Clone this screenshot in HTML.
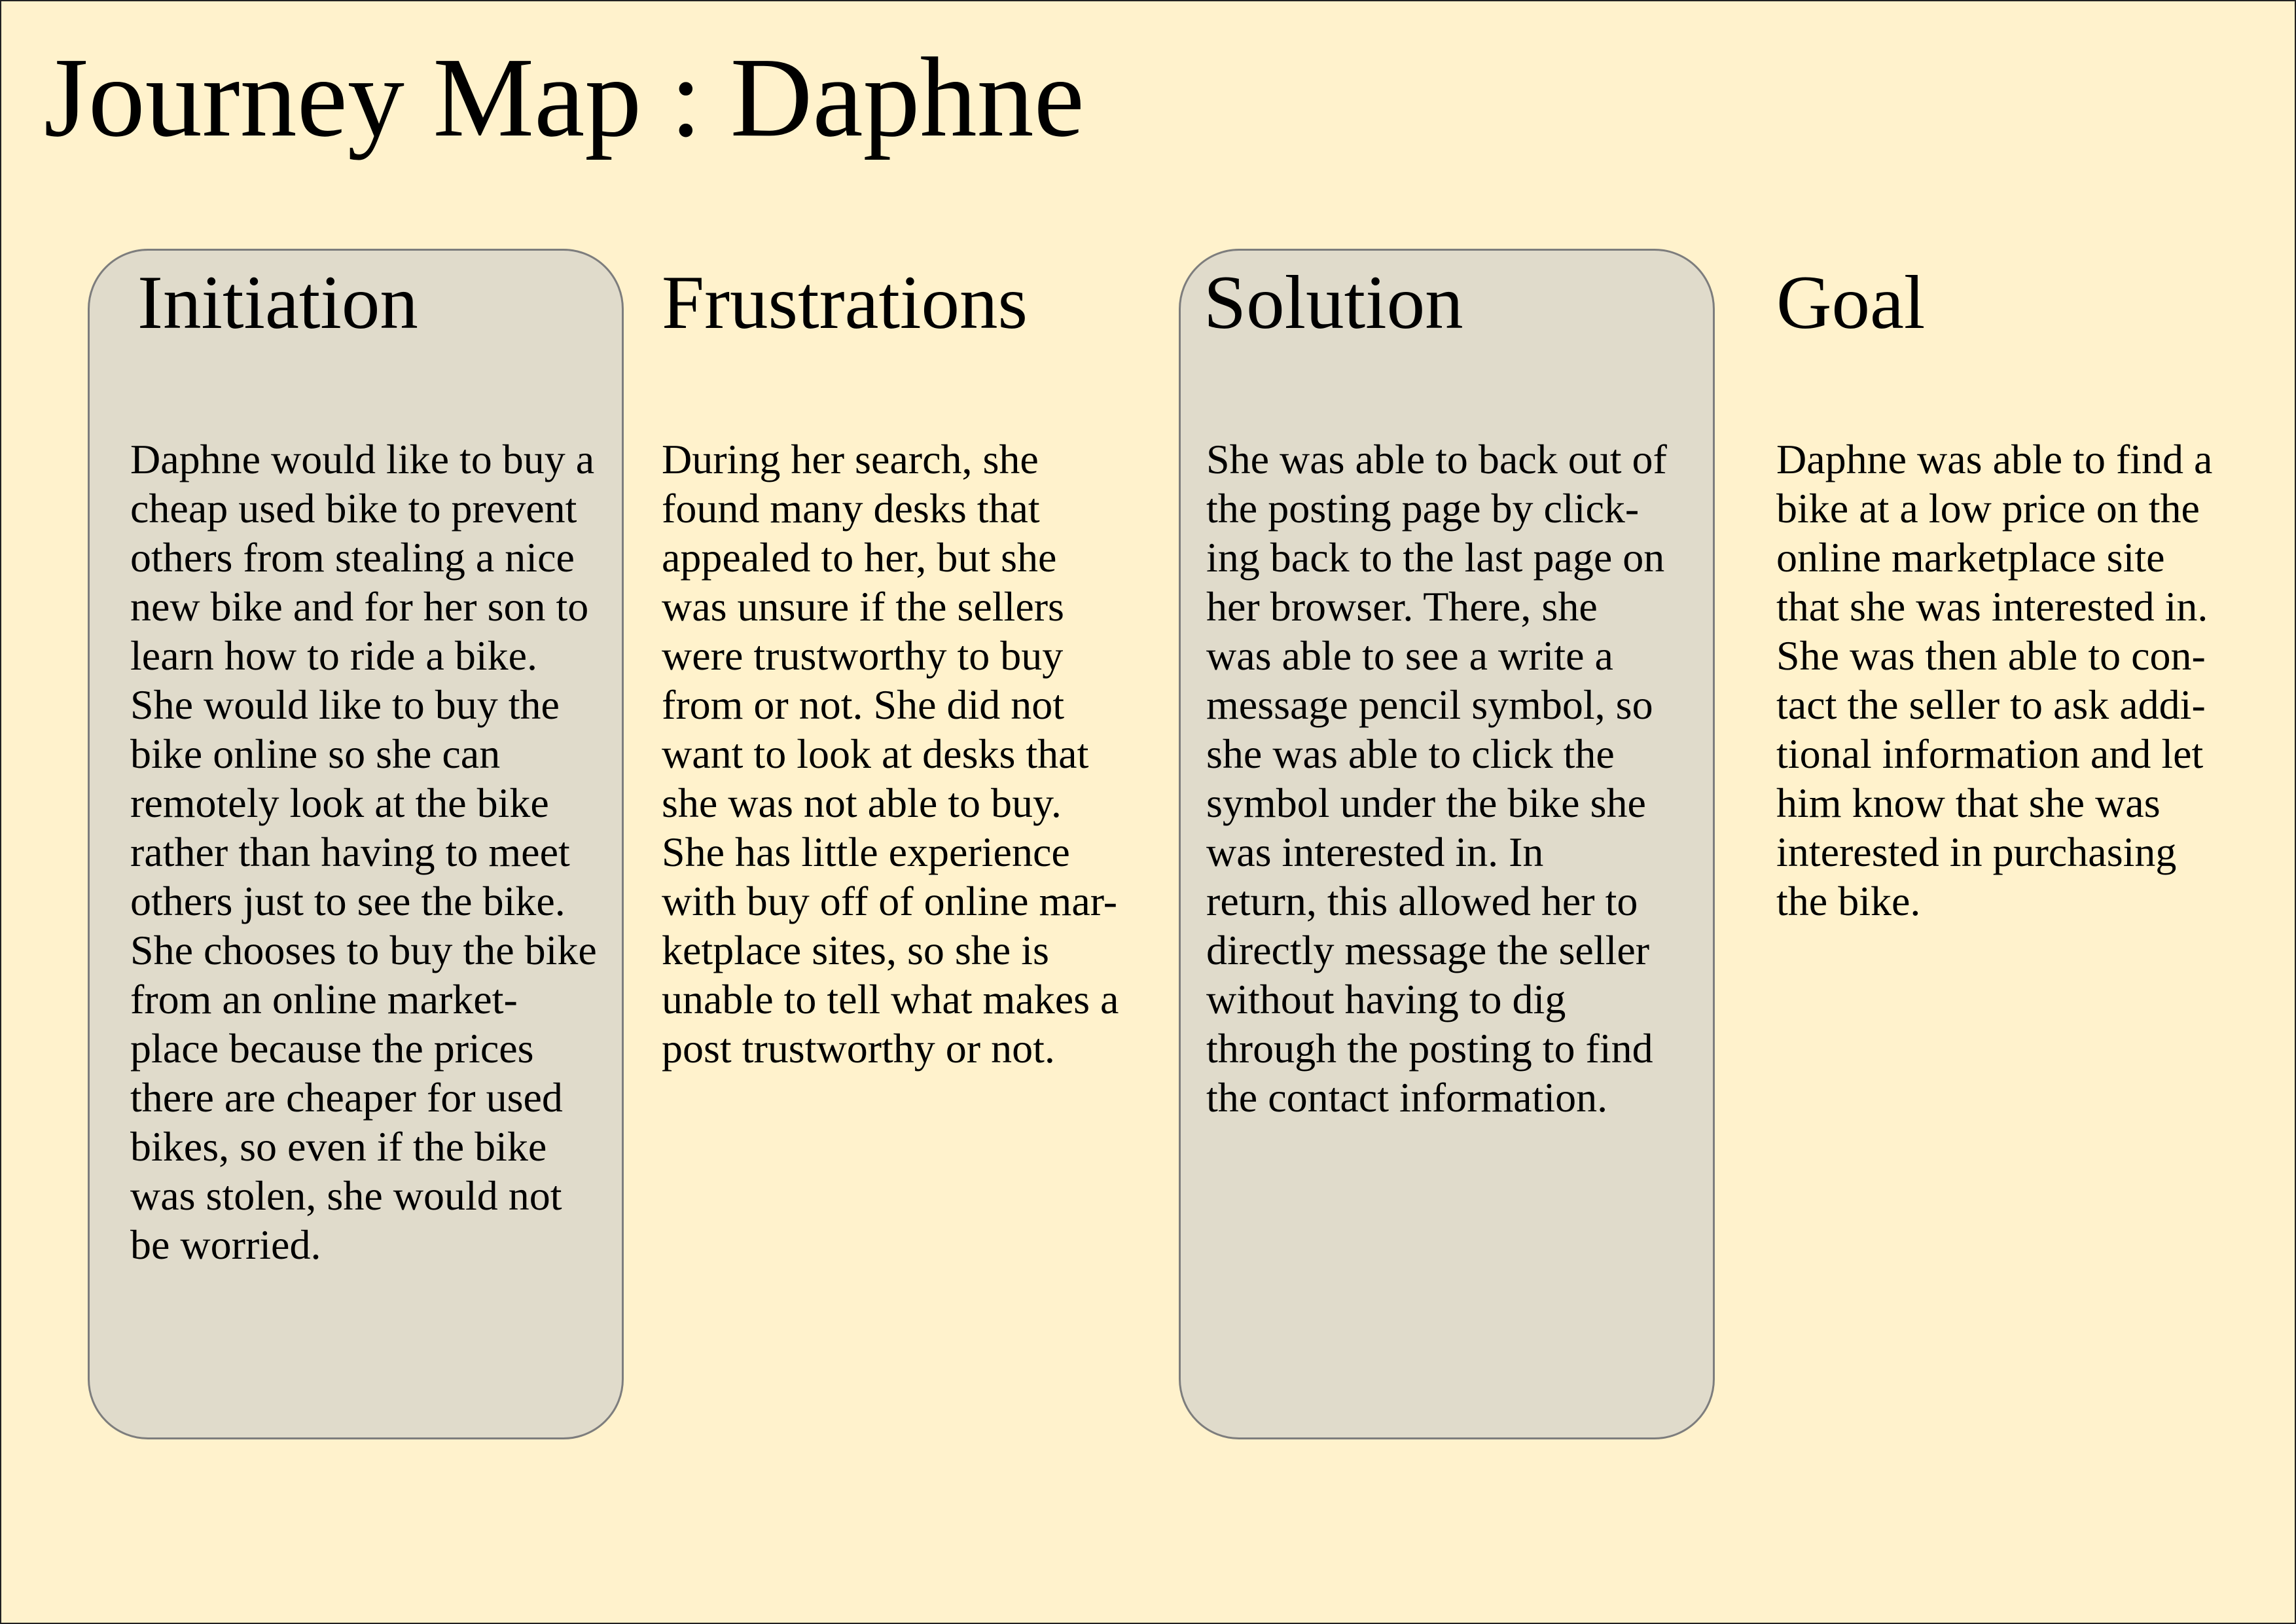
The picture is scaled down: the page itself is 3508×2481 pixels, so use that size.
<!DOCTYPE html>
<html><head><meta charset="utf-8"><style>
html,body{margin:0;padding:0}
body{width:3508px;height:2481px;background:#fff2cc;position:relative;overflow:hidden;font-family:"Liberation Serif",serif;color:#000}
.frame{position:absolute;left:0;top:0;width:3504px;height:2477px;border:2px solid #222}
.title{position:absolute;left:67px;top:62px;font-size:174px;line-height:1;white-space:nowrap}
.box{position:absolute;top:380px;width:813px;height:1813px;background:#e0dbcb;border:3px solid #7d7d7d;border-radius:92px}
.h{position:absolute;top:404px;font-size:117px;line-height:1;white-space:nowrap}
.t{position:absolute;top:664px;font-size:64px;line-height:75px;white-space:pre}
</style></head><body>
<div class="frame"></div>
<div class="title">Journey Map : Daphne</div>
<div class="box" style="left:134px"></div>
<div class="box" style="left:1801px"></div>
<div class="h" style="left:210px">Initiation</div>
<div class="h" style="left:1011px">Frustrations</div>
<div class="h" style="left:1839px">Solution</div>
<div class="h" style="left:2714px">Goal</div>
<div class="t" style="left:199px">Daphne would like to buy a
cheap used bike to prevent
others from stealing a nice
new bike and for her son to
learn how to ride a bike.
She would like to buy the
bike online so she can
remotely look at the bike
rather than having to meet
others just to see the bike.
She chooses to buy the bike
from an online market-
place because the prices
there are cheaper for used
bikes, so even if the bike
was stolen, she would not
be worried.</div>
<div class="t" style="left:1011px">During her search, she
found many desks that
appealed to her, but she
was unsure if the sellers
were trustworthy to buy
from or not. She did not
want to look at desks that
she was not able to buy.
She has little experience
with buy off of online mar-
ketplace sites, so she is
unable to tell what makes a
post trustworthy or not.</div>
<div class="t" style="left:1843px">She was able to back out of
the posting page by click-
ing back to the last page on
her browser. There, she
was able to see a write a
message pencil symbol, so
she was able to click the
symbol under the bike she
was interested in. In
return, this allowed her to
directly message the seller
without having to dig
through the posting to find
the contact information.</div>
<div class="t" style="left:2714px">Daphne was able to find a
bike at a low price on the
online marketplace site
that she was interested in.
She was then able to con-
tact the seller to ask addi-
tional information and let
him know that she was
interested in purchasing
the bike.</div>
</body></html>
